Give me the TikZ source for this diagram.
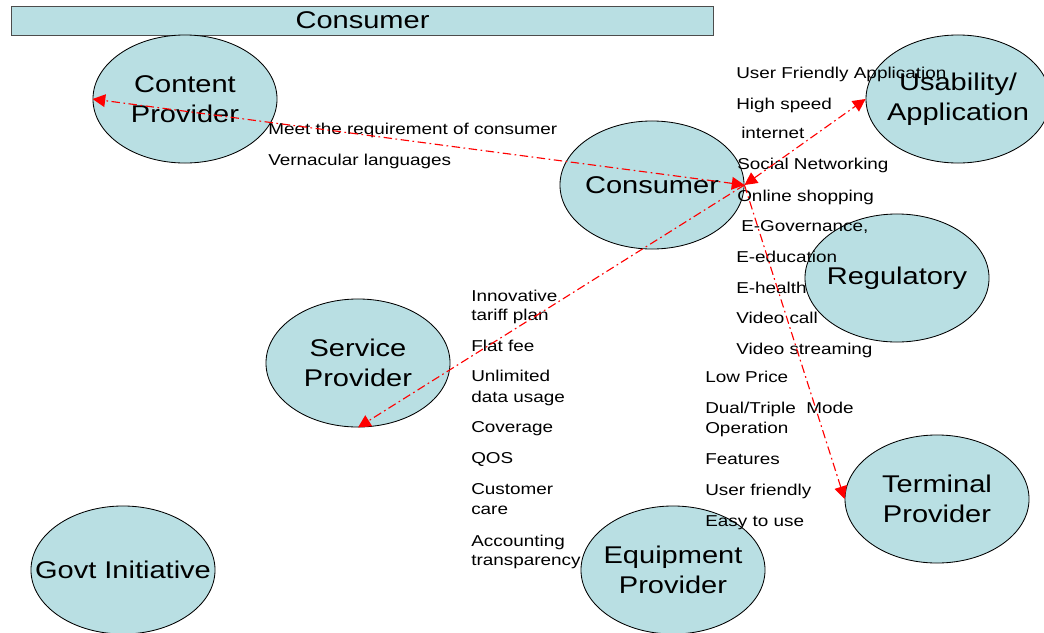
\documentclass[tikz,border=0pt]{standalone}
\usepackage{fontspec}
\setmainfont[FakeStretch=1.2]{Liberation Sans}
\usetikzlibrary{shapes.geometric}
\usetikzlibrary{arrows.meta}
\definecolor{bubble}{RGB}{185,223,227}

\begin{document}
\begin{tikzpicture}[x=0.025cm, y=-0.025cm,
		actor/.style={ellipse, draw=black, line width=0.6pt, fill=bubble, minimum width=4.6cm, minimum height=3.2cm, inner sep=0pt},
		bigtext/.style={align=center, inner sep=0pt, font=\fontsize{17.2}{21.5}\selectfont},
		itemtext/.style={anchor=base west, inner sep=0pt, font=\fontsize{11.2}{13}\selectfont},
		link/.style={red, line width=0.8pt, dash pattern=on 6pt off 2.5pt on 1.2pt off 2.5pt, >={Triangle[length=9pt,width=9pt]}}]
	\useasboundingbox (0,0) rectangle (1044,632);
	\clip (0,0) rectangle (1044,632);
	% top bar
	\node (bar) [draw=black!70, line width=0.6pt, fill=bubble, minimum width=17.525cm, minimum height=0.725cm, inner sep=0pt, font=\fontsize{17.2}{21.5}\selectfont] at (362.5,20.5) {Consumer};
	% bubbles
	\node (content) [actor] at (185,99) {};
	\node (cons) [actor] at (652,185) {};
	\node (usab) [actor] at (958,99) {};
	\node (regul) [actor] at (897,278) {};
	\node (service) [actor] at (358,363) {};
	\node (terminal) [actor] at (937,499) {};
	\node (equip) [actor] at (673,570) {};
	\node (govt) [actor] at (123,570) {};
	\node (content-t) [bigtext] at (content) {Content\\Provider};
	\node (cons-t) [bigtext] at (cons) {Consumer};
	\node (usab-t) [bigtext] at (usab) {Usability/\\Application};
	\node (regul-t) [bigtext] at (regul) {Regulatory};
	\node (service-t) [bigtext] at (service) {Service\\Provider};
	\node (terminal-t) [bigtext] at (terminal) {Terminal\\Provider};
	\node (equip-t) [bigtext] at (equip) {Equipment\\Provider};
	\node (govt-t) [bigtext] at (govt) {Govt Initiative};
	% content provider notes
	\node (c1) [itemtext] at (268,134) {Meet the requirement of consumer};
	\node (c2) [itemtext] at (268,165) {Vernacular languages};
	% usability notes
	\node (u1) [itemtext] at (736,78) {User Friendly Application};
	\node (u2) [itemtext] at (736,109) {High speed};
	\node (u3) [itemtext] at (741,138) {internet};
	\node (u4) [itemtext] at (737,169) {Social Networking};
	\node (u5) [itemtext] at (737,201) {Online shopping};
	\node (u6) [itemtext] at (741,231) {E-Governance,};
	\node (u7) [itemtext] at (736,262) {E-education};
	\node (u8) [itemtext] at (736,293) {E-health};
	\node (u9) [itemtext] at (736,323) {Video call};
	\node (u10) [itemtext] at (736,354) {Video streaming};
	% service provider notes
	\node (s1) [itemtext] at (471,301) {Innovative};
	\node (s2) [itemtext] at (471,320) {tariff plan};
	\node (s3) [itemtext] at (471,351) {Flat fee};
	\node (s4) [itemtext] at (471,381) {Unlimited};
	\node (s5) [itemtext] at (471,402) {data usage};
	\node (s6) [itemtext] at (471,432) {Coverage};
	\node (s7) [itemtext] at (471,463) {QOS};
	\node (s8) [itemtext] at (471,494) {Customer};
	\node (s9) [itemtext] at (471,514) {care};
	\node (s10) [itemtext] at (471,546) {Accounting};
	\node (s11) [itemtext] at (471,565) {transparency};
	% terminal provider notes
	\node (t1) [itemtext] at (705,382) {Low Price};
	\node (t2) [itemtext] at (705,413) {Dual/Triple\ \ Mode};
	\node (t3) [itemtext] at (705,433) {Operation};
	\node (t4) [itemtext] at (705,464) {Features};
	\node (t5) [itemtext] at (705,495) {User friendly};
	\node (t6) [itemtext] at (705,526) {Easy to use};
	% links
	\draw [link, <->] (cons.east) -- (content.west);
	\draw [link, <->] (cons.east) -- (usab.west);
	\draw [link, ->] (cons.east) -- (service.south);
	\draw [link, ->] (cons.east) -- (terminal.west);
\end{tikzpicture}
\end{document}
